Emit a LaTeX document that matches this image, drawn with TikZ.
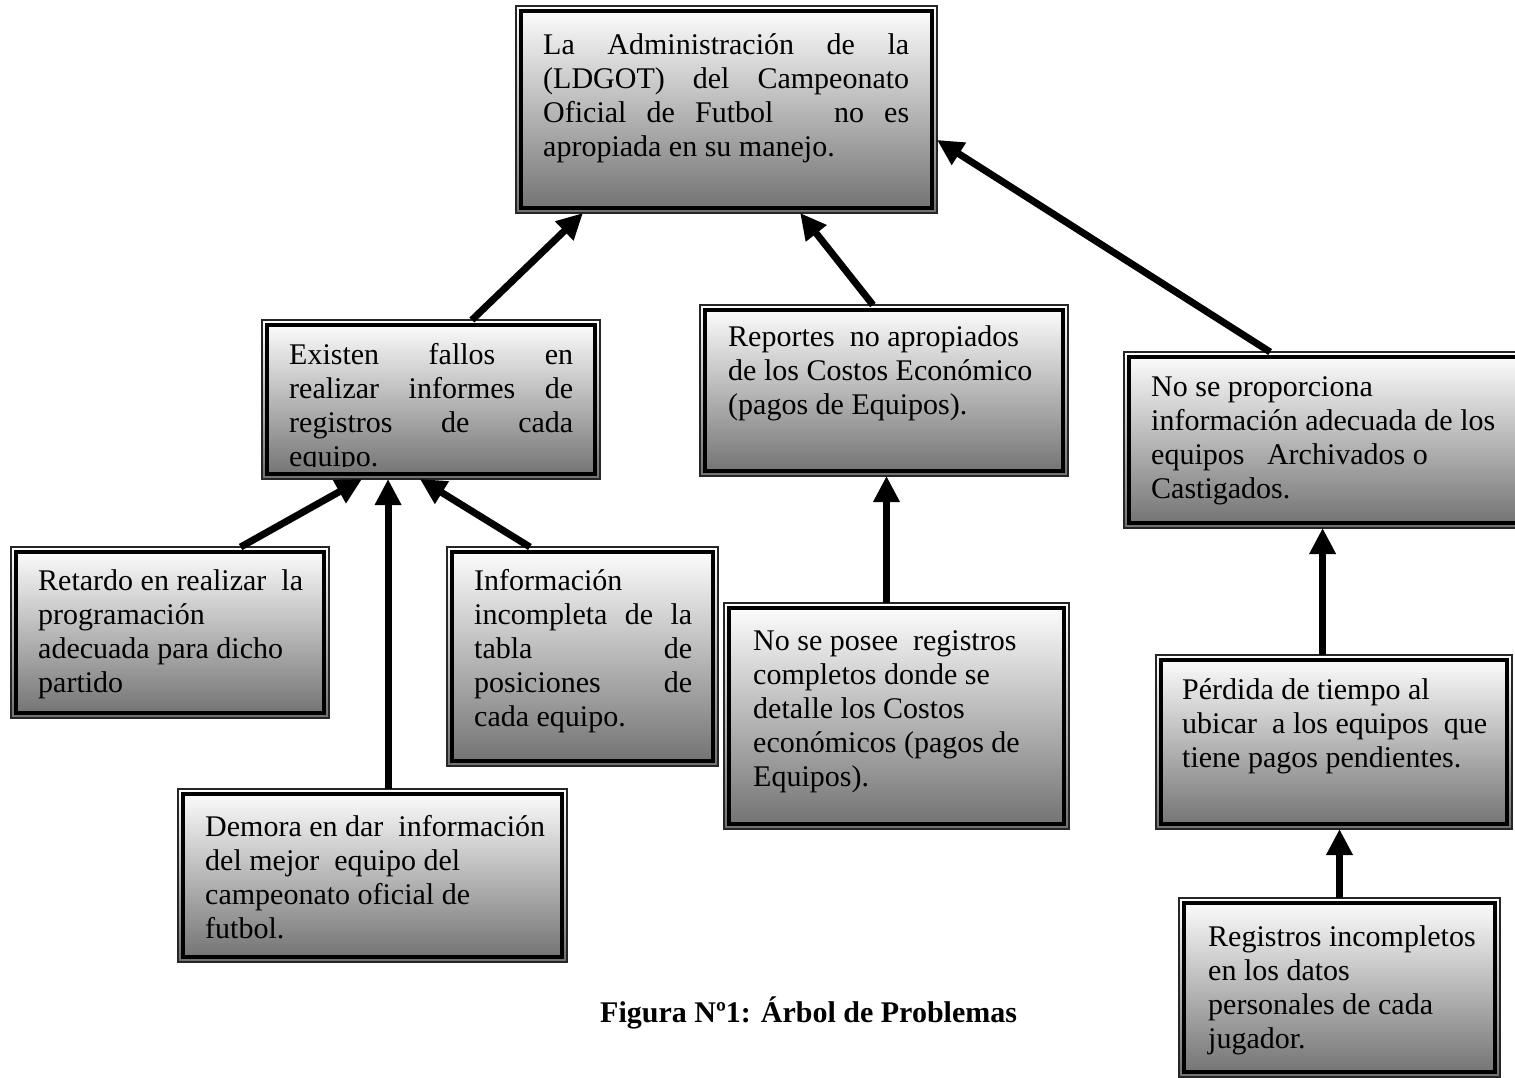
\documentclass[tikz,border=0pt]{standalone}
\usepackage{fontspec}
\setmainfont{Liberation Serif}
\usetikzlibrary{arrows.meta,calc}

\tikzset{
  boxfill/.style={rectangle, draw=none, top color=white, bottom color=black!56,
                  inner sep=0pt, outer sep=0pt, anchor=north west},
  boxtext/.style={anchor=base west, inner sep=0pt, font=\fontsize{30}{34}\selectfont},
  outerline/.style={draw=black!85, line width=1.3pt},
  innerline/.style={draw=black, line width=3.2pt},
  cause/.style={line width=7pt, -{Triangle[length=26pt,width=25pt]}},
  captiontext/.style={anchor=base west, inner sep=0pt, font=\fontsize{30}{34}\selectfont\bfseries},
}

% shaded problem box with a double frame:
% #1 name, #2-#5 corners (x1,y1,x2,y2), #6-#7 first baseline start, #8 text
\newcommand\probbox[8]{%
  \node[boxfill, minimum width={#4-#2}, minimum height={#5-#3}] (#1) at (#2,#3) {};
  \begin{scope}
    \clip (#2+7,#3+7) rectangle (#4-7,#5-13);
    \node[boxtext] (#1-text) at (#6,#7) {#8};
  \end{scope}
  \draw[outerline] (#1.north west) rectangle (#1.south east);
  \draw[innerline] ([shift={(5pt,-5pt)}]#1.north west) rectangle ([shift={(-5pt,5pt)}]#1.south east);
}
\newcommand\jline[1]{\makebox[\linewidth][s]{#1}}

\begin{document}
\begin{tikzpicture}[x=1pt,y=-1pt]
\useasboundingbox (0,0) rectangle (1515,1078);

% main problem
\probbox{main}{516}{6}{937}{213}{543}{55}{\parbox[t]{366pt}{%
  \jline{La Administración de la}\\
  \jline{(LDGOT) del Campeonato}\\
  \jline{Oficial de Futbol\ \ \ no es}\\
  apropiada en su manejo.}}

% direct causes
\probbox{fallos}{262}{320}{600}{479}{289}{364}{\parbox[t]{284pt}{%
  \jline{Existen fallos en}\\
  \jline{realizar informes de}\\
  \jline{registros de cada}\\
  equipo.}}

\probbox{reportes}{700}{305}{1068}{476}{728}{346}{\parbox[t]{330pt}{%
  Reportes\ \ no apropiados\\
  de los Costos Económico\\
  (pagos de Equipos).}}

\probbox{archivo}{1124}{352}{1530}{528}{1151}{396}{\parbox[t]{360pt}{%
  No se proporciona\\
  información adecuada de los\\
  equipos\ \ \ Archivados o\\
  Castigados.}}

% secondary causes
\probbox{retardo}{11}{547}{329}{718}{38}{590}{\parbox[t]{280pt}{%
  Retardo en realizar\ \ la\\
  programación\\
  adecuada para dicho\\
  partido}}

\probbox{tabla}{447}{547}{718}{766}{474}{590}{\parbox[t]{218pt}{%
  Información\\
  \jline{incompleta de la}\\
  \jline{tabla de}\\
  \jline{posiciones de}\\
  cada equipo.}}

\probbox{demora}{178}{789}{567}{962}{205}{836}{\parbox[t]{350pt}{%
  Demora en dar\ \ información\\
  del mejor\ \ equipo del\\
  campeonato oficial de\\
  futbol.}}

\probbox{costos}{724}{603}{1069}{829}{753}{650}{\parbox[t]{300pt}{%
  No se posee\ \ registros\\
  completos donde se\\
  detalle los Costos\\
  económicos (pagos de\\
  Equipos).}}

\probbox{perdida}{1156}{655}{1512}{829}{1182}{699}{\parbox[t]{320pt}{%
  Pérdida de tiempo al\\
  ubicar\ \ a los equipos\ \ que\\
  tiene pagos pendientes.}}

\probbox{registros}{1179}{898}{1500}{1077}{1208}{946}{\parbox[t]{290pt}{%
  Registros incompletos\\
  en los datos\\
  personales de cada\\
  jugador.}}

% cause -> effect arrows
\draw[cause] ($(fallos.north west)!0.621!(fallos.north east)$)
          -- ($(main.south west)!0.159!(main.south east)$);
\draw[cause] ($(reportes.north west)!0.470!(reportes.north east)$)
          -- ($(main.south west)!0.675!(main.south east)$);
\draw[cause] ($(archivo.north west)!0.360!(archivo.north east)$)
          -- ($(main.north east)!0.647!(main.south east)$);

\draw[cause] ($(retardo.north west)!0.722!(retardo.north east)$)
          -- ($(fallos.south west)!0.296!(fallos.south east)$);
\coordinate (demtop) at ($(demora.north west)!0.540!(demora.north east)$);
\draw[cause] (demtop) -- (demtop |- fallos.south);
\draw[cause] ($(tabla.north west)!0.306!(tabla.north east)$)
          -- ($(fallos.south west)!0.467!(fallos.south east)$);

\coordinate (costop) at ($(costos.north west)!0.471!(costos.north east)$);
\draw[cause] (costop) -- (costop |- reportes.south);

\coordinate (pertop) at ($(perdida.north west)!0.468!(perdida.north east)$);
\draw[cause] (pertop) -- (pertop |- archivo.south);

\coordinate (regtop) at ($(registros.north west)!0.5!(registros.north east)$);
\draw[cause] (regtop) -- (regtop |- perdida.south);

% caption
\node[captiontext] (caption) at (600,1022) {Figura Nº1: Árbol de Problemas};
\end{tikzpicture}
\end{document}
